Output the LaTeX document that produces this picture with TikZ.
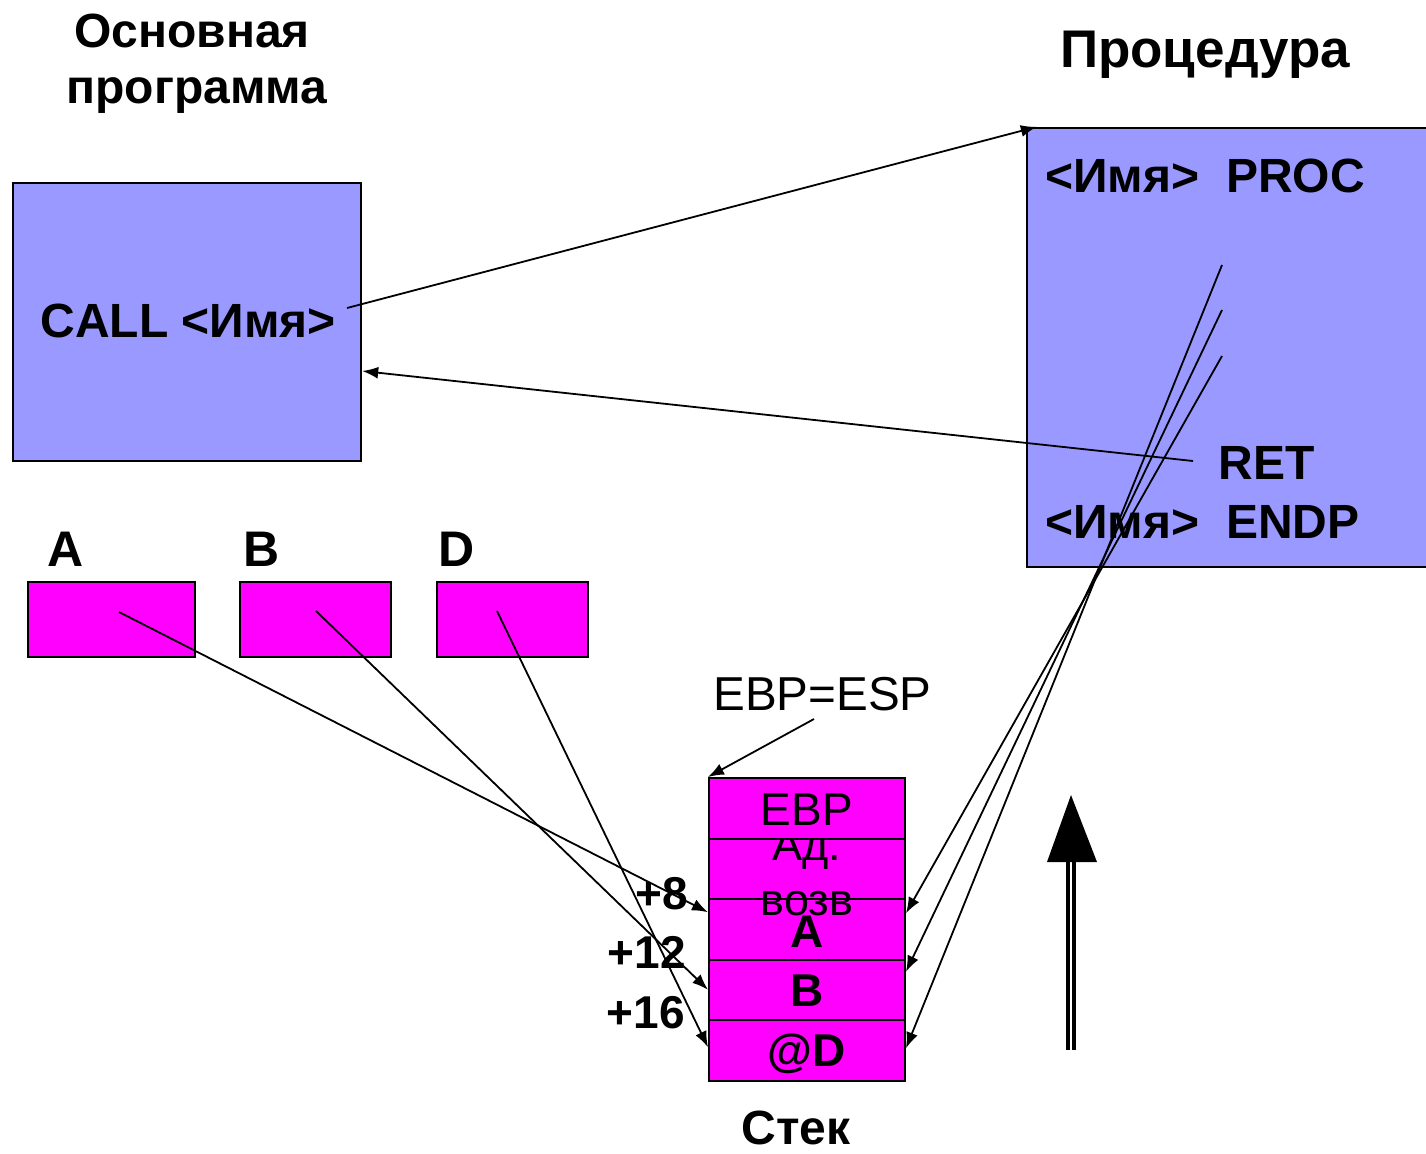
\documentclass[tikz,border=0pt]{standalone}
\usepackage{fontspec}
\setmainfont{Liberation Sans}
\usetikzlibrary{arrows.meta,calc}
\definecolor{procblue}{HTML}{9999FF}
\definecolor{stackpink}{HTML}{FF00FF}

\begin{document}
\begin{tikzpicture}[x=0.5pt,y=-0.5pt,
  bluebox/.style={draw,fill=procblue,line width=1.2pt,inner sep=0pt},
  pinkbox/.style={draw,fill=stackpink,line width=1pt,inner sep=0pt},
  cell/.style={pinkbox,minimum width=98pt,minimum height=30.25pt},
  bold/.style={font=\bfseries\fontsize{24}{28}\selectfont,inner sep=0pt},
  bigbold/.style={font=\bfseries\fontsize{25}{30}\selectfont,inner sep=0pt},
  cellbold/.style={font=\bfseries\fontsize{23}{27}\selectfont,inner sep=0pt},
  plain/.style={font=\fontsize{22.5}{27}\selectfont,inner sep=0pt},
  link/.style={-{Latex[length=8pt,width=6pt]},line width=0.9pt},
]
\useasboundingbox (0,0) rectangle (1426,1153);

% headings
\node[bold,anchor=base] (hmain1) at (192,47) {Основная};
\node[bold,anchor=base] (hmain2) at (197,103) {программа};
\node[bigbold,font=\bfseries\fontsize{26.5}{31}\selectfont,anchor=base] (hproc) at (1205,67) {Процедура};

% main program and procedure
\node[bluebox,minimum width=174pt,minimum height=139pt] (main) at (187,322) {};
\node[bluebox,minimum width=200.5pt,minimum height=219.5pt] (proc) at (1227.5,347.5) {};

\node[bold,anchor=base west] (call) at (40,337) {CALL <Имя>};
\node[bold,anchor=base west] (procline) at (1045,192) {<Имя>\ \ PROC};
\node[bold,anchor=base west] (ret) at (1218,479) {RET};
\node[bold,anchor=base west] (endp) at (1045,538) {<Имя>\ \ ENDP};

% variables
\node[bigbold,anchor=base west] (lA) at (47,566) {A};
\node[bigbold,anchor=base west] (lB) at (243,566) {B};
\node[bigbold,anchor=base west] (lD) at (438,566) {D};
\node[pinkbox,minimum width=83.5pt,minimum height=37.5pt] (varA) at (111.5,619.5) {};
\node[pinkbox,minimum width=75.5pt,minimum height=37.5pt] (varB) at (315.5,619.5) {};
\node[pinkbox,minimum width=75.5pt,minimum height=37.5pt] (varD) at (512.5,619.5) {};

% stack
\node[cell] (row2) at (807,868.75) {};
\node[cell] (row3) at (807,929.25) {};
\node[cell] (row4) at (807,989.75) {};
\node[cell] (row5) at (807,1050.25) {};
\node[plain,anchor=base] (ret1) at (807,860) {Ад.};
\node[plain,anchor=base] (ret2) at (807,915) {возв};
\node[cell] (row1) at (807,808.25) {};
\node[plain,font=\fontsize{23}{27}\selectfont,anchor=base] (tEBP) at (807,825) {EBP};
\node[cellbold,anchor=base] (tA) at (807,947) {A};
\node[cellbold,anchor=base] (tB) at (807,1006) {B};
\node[cellbold,anchor=base] (tD) at (807,1066) {@D};

\node[bold,font=\bfseries\fontsize{23}{27}\selectfont,anchor=base east] (off8) at (688,909) {+8};
\node[bold,font=\bfseries\fontsize{23}{27}\selectfont,anchor=base east] (off12) at (686,968) {+12};
\node[bold,font=\bfseries\fontsize{23}{27}\selectfont,anchor=base east] (off16) at (685,1028) {+16};
\node[bold,anchor=base] (stack) at (796,1144) {Стек};
\node[plain,font=\fontsize{23.8}{28}\selectfont,anchor=base west] (ebpesp) at (713,710) {EBP=ESP};

% connector end points inside texts and boxes
\coordinate (callend) at (347,308);
\coordinate (retstart) at (1193,461);
\coordinate (srcA) at (119,612);
\coordinate (srcB) at (316,611);
\coordinate (srcD) at (497,611);
\coordinate (ebpfrom) at (814,719);
\coordinate (pD) at (1222,265);
\coordinate (pB) at (1222,310);
\coordinate (pA) at (1222,356);

% call and return
\draw[link] (callend) -- ([xshift=5.5pt]proc.north west);
\draw[link] (retstart) -- ([yshift=-24.5pt]main.east);

% parameters pushed onto the stack
\draw[link] (srcA) -- ([yshift=8.5pt]row3.west);
\draw[link] (srcB) -- (row4.west);
\draw[link] (srcD) -- ([yshift=1.5pt]row5.west);
\draw[link] (ebpfrom) -- (row1.north west);

% access from the procedure
\draw[link] (pA) -- ([yshift=8pt]row3.east);
\draw[link] (pB) -- ([yshift=9pt]row4.east);
\draw[link] (pD) -- ([yshift=1pt]row5.east);

% stack growth direction
\draw[line width=1.6pt,double,double distance=1.4pt] (1071,1050) -- (1071,860);
\fill (1071,795) -- (1097,862) -- (1047,862) -- cycle;
\end{tikzpicture}
\end{document}
